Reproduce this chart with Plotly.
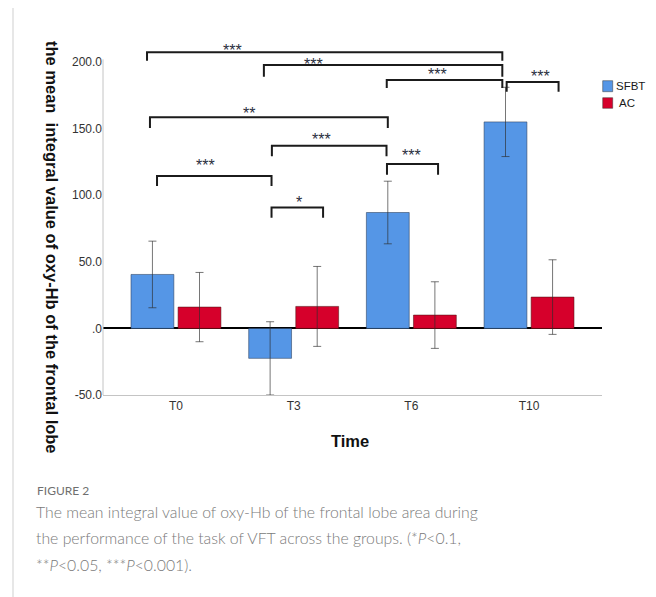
import plotly.graph_objects as go

# ---------------- data ----------------
categories = ["T0", "T3", "T6", "T10"]
sfbt_mean = [40.5, -22.5, 87.0, 155.0]
sfbt_err = [25.0, 27.5, 23.5, 26.0]
ac_mean = [16.0, 16.5, 10.0, 23.5]
ac_err = [26.0, 30.0, 25.0, 28.0]

y_tick_vals = [-50, 0, 50, 100, 150, 200]
y_tick_text = ["-50.0", ".0", "50.0", "100.0", "150.0", "200.0"]

# significance brackets: (x_left, x_right, y_top, y_leg_bottom, label, label_x, label_y)
brackets = [
    (-0.246, 2.773, 207.3, 201.0, "***", 0.484, 208.6),
    (0.747, 2.773, 197.7, 189.0, "***", 1.171, 198.1),
    (1.791, 2.773, 186.5, 180.5, "***", 2.224, 190.8),
    (2.810, 3.251, 185.0, 177.7, "***", 3.096, 189.1),
    (-0.221, 1.800, 158.5, 150.5, "**", 0.620, 161.3),
    (0.815, 1.789, 137.2, 129.2, "***", 1.237, 142.0),
    (-0.161, 0.812, 114.4, 106.9, "***", 0.252, 122.1),
    (1.793, 2.227, 123.4, 115.4, "***", 2.001, 129.6),
    (0.812, 1.250, 90.8, 83.1, "*", 1.044, 94.5),
]

caption_title = "FIGURE 2"
caption_lines = [
    "The mean integral value of oxy-Hb of the frontal lobe area during",
    "the performance of the task of VFT across the groups. (*<i>P</i>&lt;0.1,",
    "**<i>P</i>&lt;0.05, ***<i>P</i>&lt;0.001).",
]

BLUE = "#5596E6"
RED = "#D6002B"

# page body has an 8px margin: figure origin sits at (8, 8) in the window
OFF = 8
W, H = 648, 589
ML, MR, MT, MB = 95, 54, 34, 202
PW, PH = W - ML - MR, H - MT - MB


def px_x(px):
    return (px - OFF - ML) / PW


def px_y(py):
    return (H - MB - (py - OFF)) / PH


fig = go.Figure()
err_style = dict(type="data", thickness=1, width=4, color="rgba(45,45,45,0.65)")
fig.add_trace(go.Bar(
    x=categories, y=sfbt_mean, name="SFBT", showlegend=False,
    marker=dict(color=BLUE, line=dict(color="rgba(40,60,90,0.55)", width=1)),
    error_y=dict(array=sfbt_err, **err_style),
))
fig.add_trace(go.Bar(
    x=categories, y=ac_mean, name="AC", showlegend=False,
    marker=dict(color=RED, line=dict(color="rgba(80,20,20,0.55)", width=1)),
    error_y=dict(array=ac_err, **err_style),
))

shapes = []
annotations = []
# left axis line (only up to the 200 region)
shapes.append(dict(type="line", xref="paper", yref="y", x0=0, x1=0, y0=-50, y1=202,
                   line=dict(color="#c4c4c4", width=1)))

for (x0, x1, yt, yl, lab, lx, ly) in brackets:
    shapes.append(dict(type="path", xref="x", yref="y",
                       path=f"M {x0},{yl} L {x0},{yt} L {x1},{yt} L {x1},{yl}",
                       line=dict(color="#1b1b1b", width=2)))
    annotations.append(dict(x=lx, y=ly, xref="x", yref="y", text=lab, showarrow=False,
                            font=dict(family="Liberation Sans, Arial", size=16, color="#2a3040"),
                            xanchor="center", yanchor="middle"))

# manual legend
for (name, col, top, bot, tx) in [("SFBT", BLUE, 80.7, 91.7, 613.5), ("AC", RED, 97.7, 108.3, 616.5)]:
    shapes.append(dict(type="rect", xref="paper", yref="paper",
                       x0=px_x(602.7), x1=px_x(612.7), y0=px_y(bot), y1=px_y(top),
                       fillcolor=col, line=dict(color="rgba(50,50,50,0.6)", width=0.8)))
    annotations.append(dict(x=px_x(tx), y=px_y((top + bot) / 2), xref="paper", yref="paper",
                            text=name, showarrow=False, xanchor="left", yanchor="middle",
                            font=dict(family="Liberation Sans, Arial", size=11.5, color="#1a1a1a")))

# outer frame
shapes.append(dict(type="rect", xref="paper", yref="paper",
                   x0=px_x(13), x1=px_x(654.5), y0=px_y(620), y1=px_y(6),
                   line=dict(color="#cfcfcf", width=1), fillcolor="rgba(0,0,0,0)", layer="below"))

# y title (reads top-to-bottom)
annotations.append(dict(x=px_x(52), y=px_y(247), xref="paper", yref="paper",
                        text="<b>the mean  integral value of oxy-Hb of the frontal lobe</b>",
                        textangle=90, showarrow=False, xanchor="center", yanchor="middle",
                        font=dict(family="Liberation Sans, Arial", size=16.5, color="#111")))
# x title
annotations.append(dict(x=px_x(350), y=px_y(441), xref="paper", yref="paper",
                        text="<b>Time</b>", showarrow=False, xanchor="center", yanchor="middle",
                        font=dict(family="Liberation Sans, Arial", size=16.5, color="#111")))
# caption
annotations.append(dict(x=px_x(35), y=px_y(491), xref="paper", yref="paper",
                        text=caption_title, showarrow=False, xanchor="left", yanchor="middle",
                        font=dict(family="Lato", size=12, color="#6f6f6f")))
for i, line in enumerate(caption_lines):
    annotations.append(dict(x=px_x(34), y=px_y(511 + 26.8 * i), xref="paper", yref="paper",
                            text=line, showarrow=False, xanchor="left", yanchor="middle",
                            font=dict(family="Lato", size=15.8, color="#7a7a7a", weight=300)))

fig.update_layout(
    width=W, height=H, autosize=False,
    margin=dict(l=ML, r=MR, t=MT, b=MB, pad=0),
    paper_bgcolor="white", plot_bgcolor="white",
    barmode="group", bargap=0.2, bargroupgap=0.09,
    showlegend=False,
    shapes=shapes, annotations=annotations,
    xaxis=dict(type="category", range=[-0.62, 3.62], showline=True, linecolor="#c4c4c4",
               linewidth=1, ticks="", showgrid=False,
               tickfont=dict(family="Liberation Sans, Arial", size=12, color="#333")),
    yaxis=dict(range=[-50, 215], tickvals=y_tick_vals, ticktext=y_tick_text,
               showline=False, ticks="", showgrid=False,
               zeroline=True, zerolinecolor="#000", zerolinewidth=2,
               tickfont=dict(family="Liberation Sans, Arial", size=12, color="#333")),
)

fig.write_html("out.html")
